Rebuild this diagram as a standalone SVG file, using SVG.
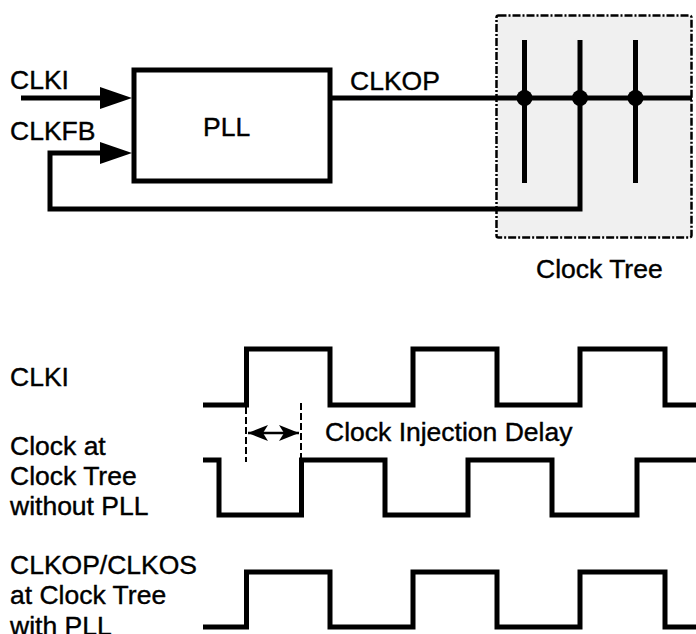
<svg xmlns="http://www.w3.org/2000/svg" width="696" height="634" viewBox="0 0 696 634">
<style>
text{font-family:"Liberation Sans",Arial,sans-serif;font-size:26.5px;fill:#000;stroke:#000;stroke-width:0.4}
.w{fill:none;stroke:#000;stroke-width:5;stroke-linejoin:miter}
.dash{fill:none;stroke:#000;stroke-width:2;stroke-dasharray:7,3}
</style>
<defs>
<marker id="dah" viewBox="0 0 20 16" refX="20" refY="8" markerWidth="20" markerHeight="16" markerUnits="userSpaceOnUse" orient="auto-start-reverse">
<path d="M0,0 L20,8 L0,16 L5,8 Z" fill="#000"/>
</marker>
</defs>
<rect width="696" height="634" fill="#fff"/>
<g id="clocktree">
<rect x="496.5" y="15.5" width="195" height="222" rx="2" fill="#f0f0f0" stroke="#000" stroke-width="2.5" stroke-dasharray="8,2,2,2"/>
<text x="536" y="278">Clock Tree</text>
</g>
<g id="pll">
<rect x="134" y="70" width="196" height="111" fill="#fff" stroke="#000" stroke-width="5"/>
<text x="203" y="136">PLL</text>
</g>
<g id="connectors">
<path class="w" d="M21,98 H104"/>
<path d="M100,87 L132,98 L100,109 Z" fill="#000"/>
<path class="w" d="M580,98 V209 H50 V153 H104"/>
<path d="M100,142 L132,153 L100,164 Z" fill="#000"/>
<path class="w" d="M330,98 H692"/>
<path class="w" d="M524.5,40 V183 M580,40 V98 M635.5,40 V183"/>
<circle cx="524.5" cy="98" r="8" fill="#000"/>
<circle cx="580" cy="98" r="8" fill="#000"/>
<circle cx="635.5" cy="98" r="8" fill="#000"/>
</g>
<g id="labels-top">
<text x="10" y="89">CLKI</text>
<text x="10" y="140">CLKFB</text>
<text x="350" y="90">CLKOP</text>
</g>
<g id="waveforms">
<path class="w" d="M203,405 H246.5 V349 H330 V405 H413 V349 H497 V405 H580 V349 H665 V405 H696"/>
<path class="w" d="M203,460 H219 V515 H301.5 V460 H385 V515 H468 V460 H552 V515 H637 V460 H696"/>
<path class="w" d="M203,627 H246.5 V572 H330 V627 H413 V572 H497 V627 H580 V572 H665 V627 H696"/>
<path class="dash" d="M246,407 V462"/>
<path class="dash" d="M301,403 V458"/>
<path d="M248,433 H299" stroke="#000" stroke-width="2.5" marker-start="url(#dah)" marker-end="url(#dah)"/>
<text x="325" y="441">Clock Injection Delay</text>
</g>
<g id="labels-bottom">
<text x="10" y="386">CLKI</text>
<text x="10" y="455">Clock at</text>
<text x="10" y="485">Clock Tree</text>
<text x="10" y="515">without PLL</text>
<text x="10" y="574">CLKOP/CLKOS</text>
<text x="10" y="604">at Clock Tree</text>
<text x="10" y="635">with PLL</text>
</g>
</svg>
